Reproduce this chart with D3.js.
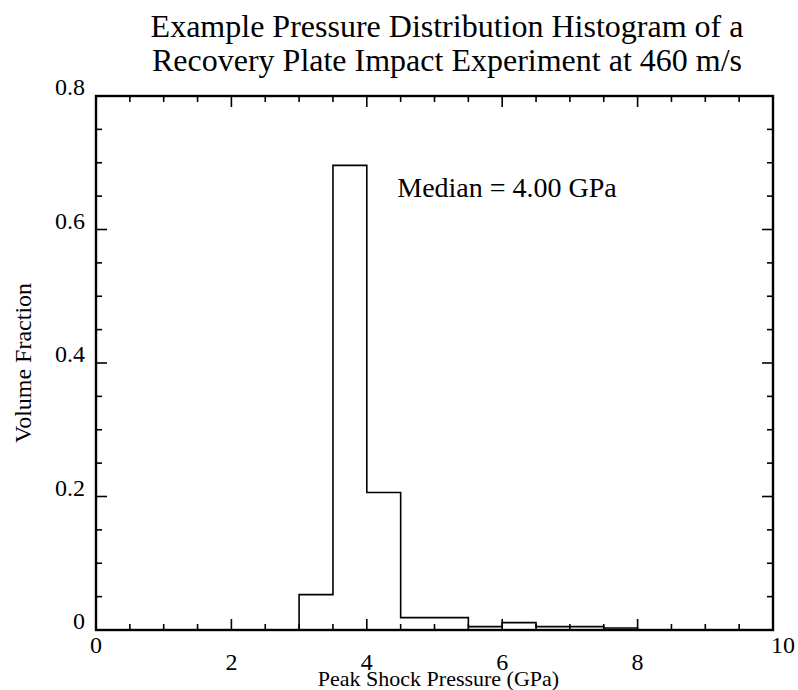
<!DOCTYPE html>
<html>
<head>
<meta charset="utf-8">
<script src="https://cdn.jsdelivr.net/npm/d3@7"></script>
<style>
  body { margin: 0; background: white; }
  svg text { font-family: "Liberation Serif", "DejaVu Serif", serif; fill: #000; }
</style>
</head>
<body>
<svg id="chart" width="798" height="690"></svg>
<script>
// Histogram bins (GPa), bin width 0.5
const binEdges = [0, 0.5, 1, 1.5, 2, 2.5, 3, 3.5, 4, 4.5, 5, 5.5, 6, 6.5, 7, 7.5, 8, 8.5, 9, 9.5, 10];
const fractions = [0, 0, 0, 0, 0, 0, 0.053, 0.696, 0.206, 0.0185, 0.0185, 0.005, 0.011, 0.005, 0.005, 0.003, 0, 0, 0, 0];

// Axis ticks
const xMajor = [0, 2, 4, 6, 8, 10];
const yMajor = [0, 0.2, 0.4, 0.6, 0.8];
const yLabels = ["0", "0.2", "0.4", "0.6", "0.8"];

const titleLines = [
  "Example Pressure Distribution Histogram of a",
  "Recovery Plate Impact Experiment at 460 m/s"
];
const medianText = "Median = 4.00 GPa";

const svg = d3.select("#chart");
const margin = { top: 96, right: 25, bottom: 60, left: 96 };
const width = 798 - margin.left - margin.right;
const height = 690 - margin.top - margin.bottom;
const g = svg.append("g").attr("transform", `translate(${margin.left},${margin.top})`);

const x = d3.scaleLinear().domain([0, 10]).range([0, width]);
const y = d3.scaleLinear().domain([0, 0.8]).range([height, 0]);

const xMinor = d3.range(0, 10.01, 0.5);
const yMinor = d3.range(0, 0.801, 0.05);

// histogram outline (step)
const pts = [];
fractions.forEach((v, i) => {
  pts.push([binEdges[i], v], [binEdges[i + 1], v]);
});

g.append("path")
  .datum(pts)
  .attr("fill", "none")
  .attr("stroke", "#000")
  .attr("stroke-width", 1.6)
  .attr("d", d3.line().x(d => x(d[0])).y(d => y(d[1])));

// ticks on all four sides, pointing inward
function tickLen(v, majors) {
  return majors.some(m => Math.abs(m - v) < 1e-6) ? 11 : 6;
}
const ticks = g.append("g").attr("stroke", "#000").attr("stroke-width", 1.6);
xMinor.forEach(v => {
  const L = tickLen(v, xMajor);
  ticks.append("line").attr("x1", x(v)).attr("x2", x(v)).attr("y1", height).attr("y2", height - L);
  ticks.append("line").attr("x1", x(v)).attr("x2", x(v)).attr("y1", 0).attr("y2", L);
});
yMinor.forEach(v => {
  const L = tickLen(v, yMajor);
  ticks.append("line").attr("x1", 0).attr("x2", L).attr("y1", y(v)).attr("y2", y(v));
  ticks.append("line").attr("x1", width).attr("x2", width - L).attr("y1", y(v)).attr("y2", y(v));
});

// frame
g.append("rect")
  .attr("x", 0).attr("y", 0)
  .attr("width", width).attr("height", height)
  .attr("fill", "none")
  .attr("stroke", "#000")
  .attr("stroke-width", 2.4);

// x tick labels (end labels sit higher)
xMajor.forEach((v, i) => {
  const isEnd = i === 0 || i === xMajor.length - 1;
  g.append("text")
    .attr("x", x(v) + (isEnd && i > 0 ? 10 : 0))
    .attr("y", height + (isEnd ? 23 : 40))
    .attr("text-anchor", "middle")
    .style("font-size", "24px")
    .text(v);
});

// y tick labels
yMajor.forEach((v, i) => {
  g.append("text")
    .attr("x", -11)
    .attr("y", y(v) - 1)
    .attr("text-anchor", "end")
    .style("font-size", "24px")
    .text(yLabels[i]);
});

// axis titles
g.append("text")
  .attr("x", width / 2 + 4)
  .attr("y", height + 56)
  .attr("text-anchor", "middle")
  .style("font-size", "22px")
  .text("Peak Shock Pressure (GPa)");

svg.append("text")
  .attr("transform", `translate(31,${margin.top + height / 2}) rotate(-90)`)
  .attr("text-anchor", "middle")
  .style("font-size", "24px")
  .text("Volume Fraction");

// title
titleLines.forEach((t, i) => {
  svg.append("text")
    .attr("x", 447)
    .attr("y", 37 + i * 34)
    .attr("text-anchor", "middle")
    .style("font-size", "32px")
    .text(t);
});

// median annotation
g.append("text")
  .attr("x", x(4.45))
  .attr("y", y(0.648))
  .style("font-size", "28px")
  .text(medianText);
</script>
</body>
</html>
